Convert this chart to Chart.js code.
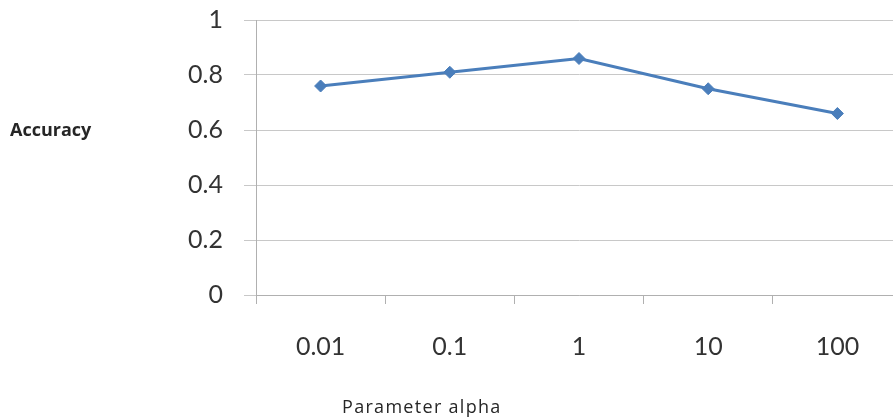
<!DOCTYPE html>
<html>
<head>
<meta charset="utf-8">
<script src="https://cdn.jsdelivr.net/npm/chart.js@4"></script>
<style>
  html, body { margin: 0; padding: 0; background: #fff; overflow: hidden; width: 893px; height: 420px; }
  #wrap { position: absolute; left: 0; top: 0; width: 909px; height: 420px; }
  .lbl { position: absolute; color: #262626; white-space: nowrap; }
  #ytitle { left: 10px; top: 117px; font: bold 18px "Open Sans", sans-serif; }
  #xtitle { left: 342px; top: 394px; font: 18px "Open Sans", sans-serif; letter-spacing: 1.3px; }
</style>
</head>
<body>
<div id="wrap"><canvas id="c" width="909" height="420"></canvas></div>
<div class="lbl" id="ytitle">Accuracy</div>
<div class="lbl" id="xtitle">Parameter alpha</div>
<script>
const categories = ["0.01", "0.1", "1", "10", "100"];
const accuracy = [0.76, 0.81, 0.86, 0.75, 0.66];
const yTicks = [0, 0.2, 0.4, 0.6, 0.8, 1];

new Chart(document.getElementById('c'), {
  type: 'line',
  data: {
    labels: categories,
    datasets: [{
      label: 'Accuracy',
      data: accuracy,
      borderColor: '#4a7ebb',
      backgroundColor: '#4a7ebb',
      borderWidth: 3,
      pointStyle: 'rectRot',
      pointRadius: 6,
      pointBorderWidth: 1,
      tension: 0,
      fill: false
    }]
  },
  options: {
    responsive: false,
    animation: false,
    events: [],
    layout: { padding: { top: 20, right: 0, bottom: 0, left: 0 } },
    plugins: { legend: { display: false }, tooltip: { enabled: false } },
    scales: {
      x: {
        offset: true,
        grid: { offset: true, drawOnChartArea: false, drawTicks: true, tickLength: 9, color: '#b0b0b0' },
        border: { display: true, color: '#b0b0b0', width: 1 },
        ticks: { color: '#333', font: { family: 'Lato', size: 25 }, padding: 28, maxRotation: 0 },
        afterFit: (s) => { s.height = 125; s.paddingLeft = 0; s.paddingRight = 0; }
      },
      y: {
        min: 0, max: 1,
        afterBuildTicks: (s) => { s.ticks = yTicks.map(v => ({ value: v })); },
        grid: { color: '#c8c8c8', tickLength: 12, lineWidth: 1 },
        border: { display: true, color: '#b0b0b0', width: 1 },
        ticks: { color: '#333', font: { family: 'Lato', size: 25 }, padding: 21,
                 callback: (v) => String(v) },
        afterFit: (s) => { s.width = 256; s.paddingTop = 0; s.paddingBottom = 0; }
      }
    }
  }
});
</script>
</body>
</html>
